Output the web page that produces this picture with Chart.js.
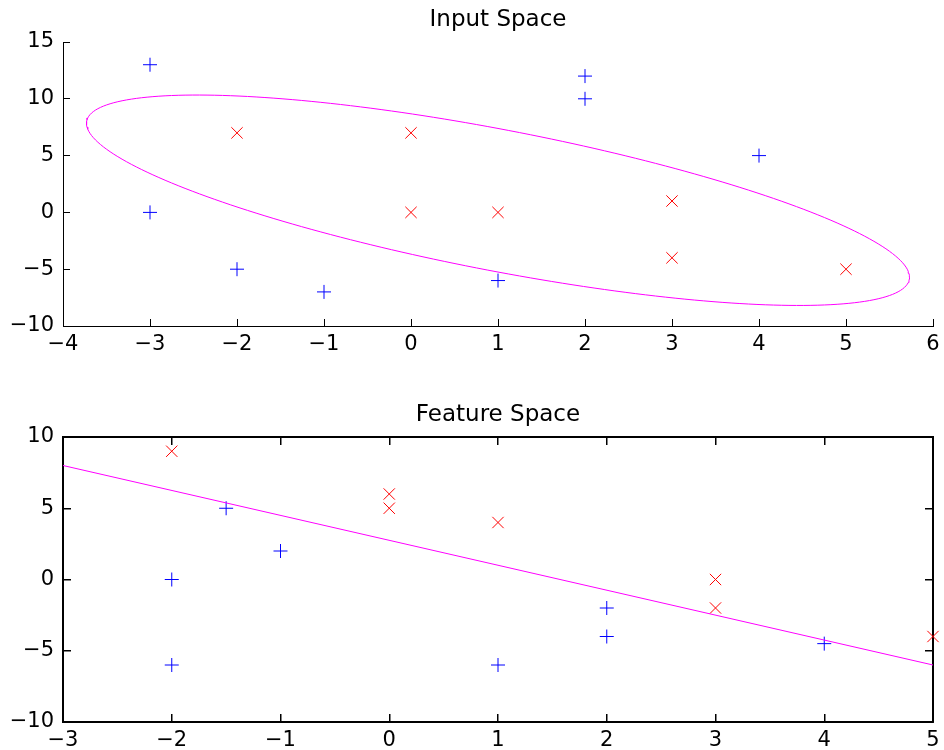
<!DOCTYPE html>
<html>
<head>
<meta charset="utf-8">
<script src="https://cdn.jsdelivr.net/npm/chart.js@4.4.1/dist/chart.umd.min.js"></script>
<style>
  body { margin: 0; background: #fff; }
  canvas { display: block; }
</style>
</head>
<body>
<canvas id="inputSpace" width="944" height="390"></canvas>
<canvas id="featureSpace" width="944" height="360"></canvas>
<script>
// input space: class "+" and class "x"
const inputPlusX = [-3, -3, -2, -1, 1, 2, 2, 4];
const inputPlusY = [13, 0, -5, -7, -6, 12, 10, 5];
const inputCrossX = [-2, 0, 0, 1, 3, 3, 5];
const inputCrossY = [7, 7, 0, 0, 1, -4, -5];

// decision ellipse: centre, x half width, y (cos, sin) components
const ellipseCenter = [1.0, 1.07];
const ellipseAxes = [4.73, -6.77, 6.32];

// feature space: class "+" and class "x", plus the separating line
const featurePlusX = [-1.5, -1, -2, -2, 1, 2, 2, 4];
const featurePlusY = [5, 2, 0, -6, -6, -2, -4, -4.5];
const featureCrossX = [-2, 0, 0, 1, 3, 3, 5];
const featureCrossY = [9, 6, 5, 4, 0, -2, -4];
const featureLineX = [-3, 5];
const featureLineY = [8, -6];

// axis ranges [min, max, step]
const inputXAxis = [-4, 6, 1];
const inputYAxis = [-10, 15, 5];
const featureXAxis = [-3, 5, 1];
const featureYAxis = [-10, 10, 5];

const BLUE = '#0000ff';
const RED = '#ff0000';
const MAGENTA = '#ff00ff';
const TICK_FONT = { family: 'DejaVu Sans', size: 21 };

Chart.defaults.font.family = 'DejaVu Sans';
Chart.defaults.color = '#000';

const toPoints = (xs, ys) => xs.map((x, i) => ({ x: x, y: ys[i] }));

function ellipsePoints() {
  const pts = [];
  const n = 240;
  for (let i = 0; i <= n; i++) {
    const t = (i / n) * Math.PI * 2;
    pts.push({
      x: ellipseCenter[0] + ellipseAxes[0] * Math.cos(t),
      y: ellipseCenter[1] + ellipseAxes[1] * Math.cos(t) + ellipseAxes[2] * Math.sin(t)
    });
  }
  return pts;
}

const minus = v => String(v).replace('-', '\u2212');

function markerSet(data, style, color) {
  const r = style === 'cross' ? 7 : 8;
  return {
    data: data,
    showLine: false,
    pointStyle: style,
    pointRadius: r,
    pointHoverRadius: r,
    pointBorderWidth: 1,
    pointHoverBorderWidth: 1,
    pointBorderColor: color,
    pointBackgroundColor: color,
    pointHoverBorderColor: color,
    pointHoverBackgroundColor: color,
    borderColor: color,
    backgroundColor: color,
    clip: false
  };
}

function curveSet(data) {
  return {
    data: data,
    showLine: true,
    borderColor: MAGENTA,
    borderWidth: 1,
    pointRadius: 0,
    pointHoverRadius: 0,
    tension: 0,
    clip: false
  };
}

function axis(range, pos, opts) {
  return {
    type: 'linear',
    position: pos,
    min: range[0],
    max: range[1],
    border: { display: true, color: '#000', width: opts.border },
    grid: {
      display: true,
      drawOnChartArea: false,
      drawTicks: true,
      tickLength: -opts.tick,
      color: '#000',
      lineWidth: opts.tickWidth
    },
    ticks: {
      display: opts.labels,
      stepSize: range[2],
      font: TICK_FONT,
      color: '#000',
      padding: opts.pad,
      maxRotation: 0,
      autoSkip: false,
      callback: minus
    },
    afterFit: s => {
      if (s.isHorizontal()) s.height = opts.size; else s.width = opts.size;
      // end labels may hang past the plot edge, keep the plot box fixed
      s.paddingLeft = s.paddingRight = s.paddingTop = s.paddingBottom = 0;
    }
  };
}

function baseOptions(titleText, titlePad) {
  return {
    responsive: false,
    animation: false,
    events: [],
    layout: { autoPadding: false, padding: { left: 0, right: 11, top: 0, bottom: 0 } },
    plugins: {
      legend: { display: false },
      tooltip: { enabled: false },
      title: {
        display: true,
        text: titleText,
        fullSize: false,
        color: '#000',
        font: { family: 'DejaVu Sans', size: 23, weight: 'normal' },
        padding: titlePad
      }
    }
  };
}

// top panel: axes on left and bottom only
const inputOpts = baseOptions('Input Space', { top: 6, bottom: 8.4 });
inputOpts.scales = {
  x: axis(inputXAxis, 'bottom', { border: 1, tick: 7, tickWidth: 1, labels: true, pad: 13, size: 64 }),
  y: axis(inputYAxis, 'left', { border: 1, tick: 7, tickWidth: 1, labels: true, pad: 16, size: 63 })
};

new Chart(document.getElementById('inputSpace'), {
  type: 'scatter',
  data: {
    datasets: [
      curveSet(ellipsePoints()),
      markerSet(toPoints(inputPlusX, inputPlusY), 'cross', BLUE),
      markerSet(toPoints(inputCrossX, inputCrossY), 'crossRot', RED)
    ]
  },
  options: inputOpts
});

// bottom panel: boxed axes, mirrored ticks on top and right
const featureOpts = baseOptions('Feature Space', { top: 11, bottom: 8.4 });
featureOpts.scales = {
  x: axis(featureXAxis, 'bottom', { border: 2, tick: 8, tickWidth: 1.5, labels: true, pad: 14, size: 28 }),
  y: axis(featureYAxis, 'left', { border: 2, tick: 8, tickWidth: 1.5, labels: true, pad: 17, size: 63 }),
  x2: axis(featureXAxis, 'top', { border: 2, tick: 8, tickWidth: 1.5, labels: false, pad: 0, size: 0 }),
  y2: axis(featureYAxis, 'right', { border: 2, tick: 8, tickWidth: 1.5, labels: false, pad: 0, size: 0 })
};

new Chart(document.getElementById('featureSpace'), {
  type: 'scatter',
  data: {
    datasets: [
      curveSet(toPoints(featureLineX, featureLineY)),
      markerSet(toPoints(featurePlusX, featurePlusY), 'cross', BLUE),
      markerSet(toPoints(featureCrossX, featureCrossY), 'crossRot', RED)
    ]
  },
  options: featureOpts
});
</script>
</body>
</html>
